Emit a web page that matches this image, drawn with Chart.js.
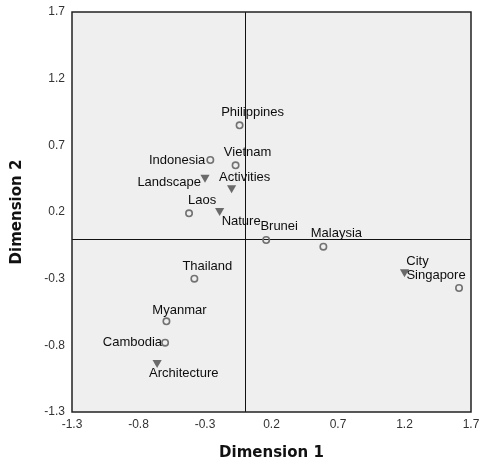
<!DOCTYPE html>
<html>
<head>
<meta charset="utf-8">
<script src="https://cdn.jsdelivr.net/npm/chart.js@4.4.0/dist/chart.umd.min.js"></script>
<style>
  html, body { margin:0; padding:0; background:#fff; }
</style>
</head>
<body>
<canvas id="chart" width="479" height="461"></canvas>
<script>
/* correspondence map: countries vs. attributes */

const countries = ["Philippines", "Vietnam", "Indonesia", "Laos", "Brunei",
                   "Malaysia", "Singapore", "Thailand", "Myanmar", "Cambodia"];
const countryDim1 = [-0.04, -0.07, -0.26, -0.42, 0.16, 0.59, 1.61, -0.38, -0.59, -0.60];
const countryDim2 = [0.85, 0.55, 0.59, 0.19, -0.01, -0.06, -0.37, -0.30, -0.62, -0.78];

const attributes = ["Landscape", "Activities", "Nature", "City", "Architecture"];
const attrDim1 = [-0.30, -0.10, -0.19, 1.20, -0.66];
const attrDim2 = [0.46, 0.38, 0.21, -0.25, -0.93];

const dimTicks = [-1.3, -0.8, -0.3, 0.2, 0.7, 1.2, 1.7];

// where each label sits relative to its marker: [align, dx, dy]
const countryPlace = [
  ["center", 13, -13], ["center", 12, -13], ["right", -5, 0], ["center", 13, -13],
  ["center", 13, -14], ["center", 13, -13], ["center", -23, -13], ["center", 13, -12],
  ["center", 13, -11], ["right", -3, 0]
];
const attrPlace = [
  ["right", -4, 5], ["center", 13, -11], ["left", 2, 11], ["center", 13, -11], ["left", -8, 11]
];

const LABEL_FONT = '13px "Liberation Sans", Arial, sans-serif';
const TICK_FONT = { family: '"Liberation Sans", Arial, sans-serif', size: 12 };
const TITLE_FONT = { family: '"DejaVu Sans", sans-serif', size: 15, weight: 'bold', lineHeight: 1 };

/* plugins */
const plotFrame = {
  id: 'plotFrame',
  beforeDraw(chart) {
    const { ctx, chartArea: a } = chart;
    ctx.save();
    ctx.fillStyle = '#efefef';
    ctx.fillRect(a.left, a.top, a.right - a.left, a.bottom - a.top);
    ctx.restore();
  },
  beforeDatasetsDraw(chart) {
    const { ctx, chartArea: a, scales } = chart;
    const x0 = Math.round(scales.x.getPixelForValue(0)) + 0.5;
    const y0 = Math.round(scales.y.getPixelForValue(0)) + 0.5;
    ctx.save();
    ctx.strokeStyle = '#111';
    ctx.lineWidth = 1;
    ctx.beginPath();
    ctx.moveTo(x0, a.top); ctx.lineTo(x0, a.bottom);
    ctx.moveTo(a.left, y0); ctx.lineTo(a.right, y0);
    ctx.stroke();
    ctx.strokeStyle = '#222';
    ctx.lineWidth = 1.5;
    ctx.strokeRect(a.left, a.top, a.right - a.left, a.bottom - a.top);
    ctx.restore();
  }
};

const pointLabels = {
  id: 'pointLabels',
  afterDatasetsDraw(chart) {
    const ctx = chart.ctx;
    ctx.save();
    ctx.font = LABEL_FONT;
    ctx.fillStyle = '#0d0d0d';
    ctx.textBaseline = 'middle';
    chart.data.datasets.forEach((ds, di) => {
      chart.getDatasetMeta(di).data.forEach((pt, i) => {
        const p = ds.labelPlace[i];
        ctx.textAlign = p[0];
        ctx.fillText(ds.names[i], pt.x + p[1], pt.y + p[2]);
      });
    });
    ctx.restore();
  }
};

new Chart(document.getElementById('chart'), {
  type: 'scatter',
  data: {
    datasets: [
      {
        label: 'Country',
        data: countries.map((c, i) => ({ x: countryDim1[i], y: countryDim2[i] })),
        names: countries,
        labelPlace: countryPlace,
        pointStyle: 'circle',
        pointRadius: 3.2,
        pointBorderWidth: 1.6,
        pointBorderColor: '#727272',
        pointBackgroundColor: 'rgba(0,0,0,0)'
      },
      {
        label: 'Attribute',
        data: attributes.map((a, i) => ({ x: attrDim1[i], y: attrDim2[i] })),
        names: attributes,
        labelPlace: attrPlace,
        pointStyle: 'triangle',
        pointRotation: 180,
        pointRadius: 5.3,
        pointBorderWidth: 0,
        pointBorderColor: '#6a6a6a',
        pointBackgroundColor: '#6a6a6a'
      }
    ]
  },
  options: {
    responsive: false,
    animation: false,
    events: [],
    layout: { padding: { top: 12, right: 8, left: 0, bottom: 0 } },
    plugins: { legend: { display: false }, tooltip: { enabled: false } },
    scales: {
      x: {
        type: 'linear', min: -1.3, max: 1.7,
        afterBuildTicks: s => { s.ticks = dimTicks.map(v => ({ value: v })); },
        afterFit: s => { s.height = 49; s.paddingLeft = 0; s.paddingRight = 0; },
        grid: { display: false, drawTicks: false },
        border: { display: false },
        ticks: { padding: 5, maxRotation: 0, autoSkip: false, color: '#333', font: TICK_FONT,
                 callback: v => v.toFixed(1) },
        title: { display: true, text: 'Dimension 1', color: '#111', font: TITLE_FONT,
                 padding: { top: 0, bottom: 0 } }
      },
      y: {
        type: 'linear', min: -1.3, max: 1.7,
        afterBuildTicks: s => { s.ticks = dimTicks.map(v => ({ value: v })); },
        afterFit: s => { s.width = 72; s.paddingTop = 0; s.paddingBottom = 0; },
        grid: { display: false, drawTicks: false },
        border: { display: false },
        ticks: { padding: 7, autoSkip: false, color: '#333', font: TICK_FONT,
                 callback: v => v.toFixed(1) },
        title: { display: true, text: 'Dimension 2', color: '#111', font: TITLE_FONT,
                 padding: { top: 10, bottom: 0 } }
      }
    }
  },
  plugins: [plotFrame, pointLabels]
});
</script>
</body>
</html>
